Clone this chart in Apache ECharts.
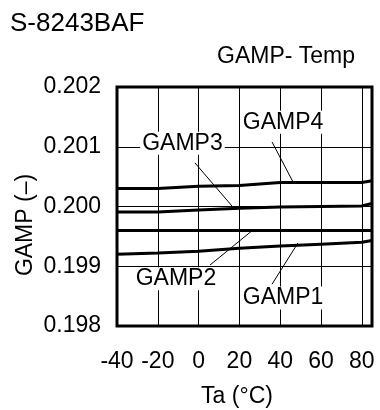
<!DOCTYPE html>
<html>
<head>
<meta charset="utf-8">
<script src="https://cdn.jsdelivr.net/npm/echarts@6/dist/echarts.min.js"></script>
<style>html,body{margin:0;padding:0;background:#fff;}#c{width:380px;height:410px;}</style>
</head>
<body>
<div id="c"></div>
<script>
var temps = [-40, -20, 0, 20, 40, 60, 80, 85];
var gamp1 = [0.19920, 0.19922, 0.19925, 0.19930, 0.19934, 0.19937, 0.19940, 0.19943];
var gamp2 = [0.19960, 0.19960, 0.19960, 0.19960, 0.19960, 0.19960, 0.19960, 0.19960];
var gamp3 = [0.19991, 0.19991, 0.19994, 0.19997, 0.19999, 0.20000, 0.20001, 0.20005];
var gamp4 = [0.20030, 0.20030, 0.20034, 0.20035, 0.20040, 0.20040, 0.20040, 0.20043];
var xTicks = [-40, -20, 0, 20, 40, 60, 80];
var yTicks = [0.198, 0.199, 0.200, 0.201, 0.202];
var labelNames = ['GAMP1', 'GAMP2', 'GAMP3', 'GAMP4'];
var labelPos = [[41.4, 0.19847], [-11.1, 0.19879], [-7.9, 0.20106], [41.4, 0.20141]];
var leaders = [
  [[36.0, 0.19870], [48.7, 0.19939]],
  [[5.6, 0.19902], [26.2, 0.199595]],
  [[-1.8, 0.20073], [16.9, 0.199987]],
  [[36.0, 0.20108], [46.3, 0.20041]]
];
var FONT = 'Liberation Sans, Arial, sans-serif';
function pairs(ys){ return temps.map(function(t,i){ return [t, ys[i]]; }); }
var series = [];
[gamp1, gamp2, gamp3, gamp4].forEach(function(g){
  series.push({type:'line', data:pairs(g), symbol:'none', z:5,
    lineStyle:{color:'#000', width:3}, silent:true});
});
leaders.forEach(function(l){
  series.push({type:'line', data:l, symbol:'none', z:4,
    lineStyle:{color:'#000', width:1}, silent:true});
});
var chart = echarts.init(document.getElementById('c'), null, {renderer:'canvas'});
var baseGraphic = [
  {type:'text', x:10, y:24, style:{text:'S-8243BAF', font:'26px ' + FONT, fill:'#000', textVerticalAlign:'middle'}},
  {type:'text', x:286, y:57, style:{text:'GAMP- Temp', font:'23px ' + FONT, fill:'#000', textAlign:'center', textVerticalAlign:'middle'}},
  {type:'text', x:26, y:225, rotation:Math.PI/2, style:{text:'GAMP (–)', font:'23px ' + FONT, fill:'#000', textAlign:'center', textVerticalAlign:'middle'}},
  {type:'text', x:237, y:397, style:{text:'Ta (°C)', font:'23px ' + FONT, fill:'#000', textAlign:'center', textVerticalAlign:'middle'}}
];
chart.setOption({
  animation:false,
  backgroundColor:'#fff',
  grid:{left:117, right:8, top:87, bottom:84, show:true, borderColor:'#000', borderWidth:3, z:10},
  xAxis:{type:'value', min:-40, max:85, interval:20,
    axisLine:{show:false}, axisTick:{show:false},
    splitLine:{show:true, lineStyle:{color:'#000', width:1}},
    axisLabel:{color:'#000', fontFamily:FONT, fontSize:23, margin:24,
      formatter:function(v){ return xTicks.indexOf(v) >= 0 ? String(v) : ''; }}
  },
  yAxis:{type:'value', min:0.198, max:0.202, interval:0.001,
    axisLine:{show:false}, axisTick:{show:false},
    splitLine:{show:true, lineStyle:{color:'#000', width:1}},
    axisLabel:{color:'#000', fontFamily:FONT, fontSize:23, margin:16,
      formatter:function(v){ return v.toFixed(3); }}
  },
  graphic:baseGraphic,
  series:series
});
var labelGraphic = labelPos.map(function(p, i){
  var px = chart.convertToPixel({gridIndex:0}, p);
  return {type:'text', x:px[0], y:px[1], z:100,
    style:{text:labelNames[i], font:'23px ' + FONT, fill:'#000', textAlign:'center', textVerticalAlign:'middle',
      backgroundColor:'#fff', padding:[0,2]}};
});
chart.setOption({graphic: baseGraphic.concat(labelGraphic)}, {replaceMerge:['graphic']});
</script>
</body>
</html>
